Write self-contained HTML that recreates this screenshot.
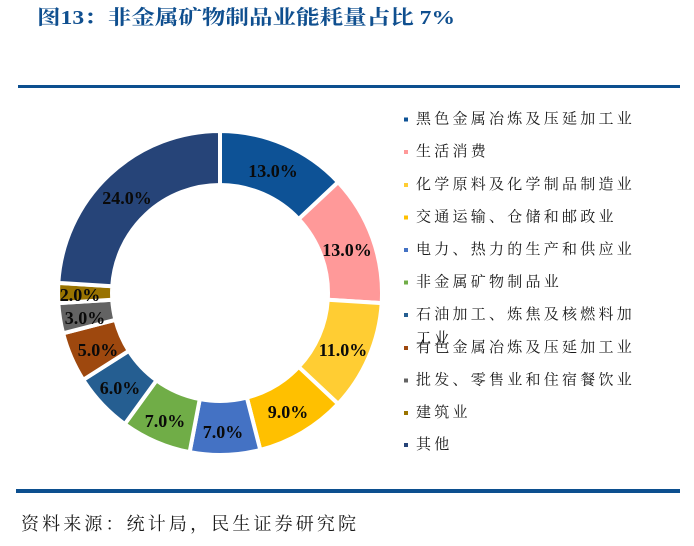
<!DOCTYPE html>
<html>
<head>
<meta charset="utf-8">
<style>
  html,body{margin:0;padding:0;background:#fff;}
  svg{display:block;}
  .lbl{font-family:"Liberation Serif","Noto Serif CJK SC",serif;font-weight:bold;font-size:18px;fill:#0a0a0a;text-anchor:middle;dominant-baseline:central;}
  .leg{font-family:"Liberation Serif","Noto Serif CJK SC",serif;font-size:15px;letter-spacing:3.25px;fill:#1a1a1a;dominant-baseline:central;}
</style>
</head>
<body>
<svg width="694" height="546" viewBox="0 0 694 546" xmlns="http://www.w3.org/2000/svg">
  <rect width="694" height="546" fill="#fff"/>
  <!-- Title -->
  <text x="37" y="18" textLength="418" lengthAdjust="spacingAndGlyphs" dominant-baseline="central"
        style="font-family:'Liberation Serif','Noto Serif CJK SC',serif;font-weight:bold;font-size:20px;fill:#0f4f8f;">图13：非金属矿物制品业能耗量占比 7%</text>
  <!-- Top rule -->
  <rect x="18" y="85" width="662" height="3" fill="#0c4f8f"/>

  <!-- Donut slices -->
  <g stroke="#fff" stroke-width="4" stroke-linejoin="miter">
    <path d="M220,131 A162,162 0 0 1 338.10,182.11 L298.73,219.07 A108,108 0 0 0 220,185 Z" fill="#0d5296"/>
    <path d="M338.10,182.11 A162,162 0 0 1 381.68,303.17 L327.78,299.78 A108,108 0 0 0 298.73,219.07 Z" fill="#ff9999"/>
    <path d="M381.68,303.17 A162,162 0 0 1 338.10,403.89 L298.73,366.93 A108,108 0 0 0 327.78,299.78 Z" fill="#ffcd33"/>
    <path d="M338.10,403.89 A162,162 0 0 1 260.29,449.91 L246.86,397.61 A108,108 0 0 0 298.73,366.93 Z" fill="#ffc000"/>
    <path d="M260.29,449.91 A162,162 0 0 1 189.64,452.13 L199.76,399.09 A108,108 0 0 0 246.86,397.61 Z" fill="#4472c4"/>
    <path d="M189.64,452.13 A162,162 0 0 1 124.78,424.06 L156.52,380.37 A108,108 0 0 0 199.76,399.09 Z" fill="#70ad47"/>
    <path d="M124.78,424.06 A162,162 0 0 1 83.22,379.80 L128.82,350.87 A108,108 0 0 0 156.52,380.37 Z" fill="#255e91"/>
    <path d="M83.22,379.80 A162,162 0 0 1 63.09,333.29 L115.39,319.86 A108,108 0 0 0 128.82,350.87 Z" fill="#9e480e"/>
    <path d="M63.09,333.29 A162,162 0 0 1 58.32,303.17 L112.22,299.78 A108,108 0 0 0 115.39,319.86 Z" fill="#636363"/>
    <path d="M58.32,303.17 A162,162 0 0 1 58.32,282.83 L112.22,286.22 A108,108 0 0 0 112.22,299.78 Z" fill="#997300"/>
    <path d="M58.32,282.83 A162,162 0 0 1 220,131 L220,185 A108,108 0 0 0 112.22,286.22 Z" fill="#264478"/>
  </g>

  <!-- Data labels -->
  <text class="lbl" x="273" y="171">13.0%</text>
  <text class="lbl" x="347" y="250">13.0%</text>
  <text class="lbl" x="343" y="350">11.0%</text>
  <text class="lbl" x="288" y="412">9.0%</text>
  <text class="lbl" x="223" y="432">7.0%</text>
  <text class="lbl" x="165" y="421">7.0%</text>
  <text class="lbl" x="120" y="388">6.0%</text>
  <text class="lbl" x="98" y="350">5.0%</text>
  <text class="lbl" x="85" y="318">3.0%</text>
  <text class="lbl" x="80" y="295">2.0%</text>
  <text class="lbl" x="127" y="198">24.0%</text>

  <!-- Legend markers -->
  <rect x="404" y="117.5" width="4" height="4" fill="#0d5296"/>
  <rect x="404" y="150" width="4" height="4" fill="#ff9999"/>
  <rect x="404" y="183" width="4" height="4" fill="#ffcd33"/>
  <rect x="404" y="215.5" width="4" height="4" fill="#ffc000"/>
  <rect x="404" y="248" width="4" height="4" fill="#4472c4"/>
  <rect x="404" y="280.5" width="4" height="4" fill="#70ad47"/>
  <rect x="404" y="313" width="4" height="4" fill="#255e91"/>
  <rect x="404" y="346" width="4" height="4" fill="#9e480e"/>
  <rect x="404" y="378.5" width="4" height="4" fill="#636363"/>
  <rect x="404" y="411" width="4" height="4" fill="#997300"/>
  <rect x="404" y="443" width="4" height="4" fill="#264478"/>

  <!-- Legend text -->
  <text class="leg" x="416" y="119.5">黑色金属冶炼及压延加工业</text>
  <text class="leg" x="416" y="152">生活消费</text>
  <text class="leg" x="416" y="185">化学原料及化学制品制造业</text>
  <text class="leg" x="416" y="217.5">交通运输、仓储和邮政业</text>
  <text class="leg" x="416" y="250">电力、热力的生产和供应业</text>
  <text class="leg" x="416" y="282.5">非金属矿物制品业</text>
  <text class="leg" x="416" y="315">石油加工、炼焦及核燃料加</text>
  <text class="leg" x="416" y="339">工业</text>
  <text class="leg" x="416" y="348">有色金属冶炼及压延加工业</text>
  <text class="leg" x="416" y="380.5">批发、零售业和住宿餐饮业</text>
  <text class="leg" x="416" y="413">建筑业</text>
  <text class="leg" x="416" y="445">其他</text>

  <!-- Bottom rule -->
  <rect x="16" y="489" width="664" height="4" fill="#0c4f8f"/>

  <!-- Footer -->
  <text x="21" y="524" textLength="335" lengthAdjust="spacing" dominant-baseline="central"
        style="font-family:'Liberation Serif','Noto Serif CJK SC',serif;font-size:18px;fill:#1a1a1a;">资料来源：统计局，民生证券研究院</text>
</svg>
</body>
</html>
